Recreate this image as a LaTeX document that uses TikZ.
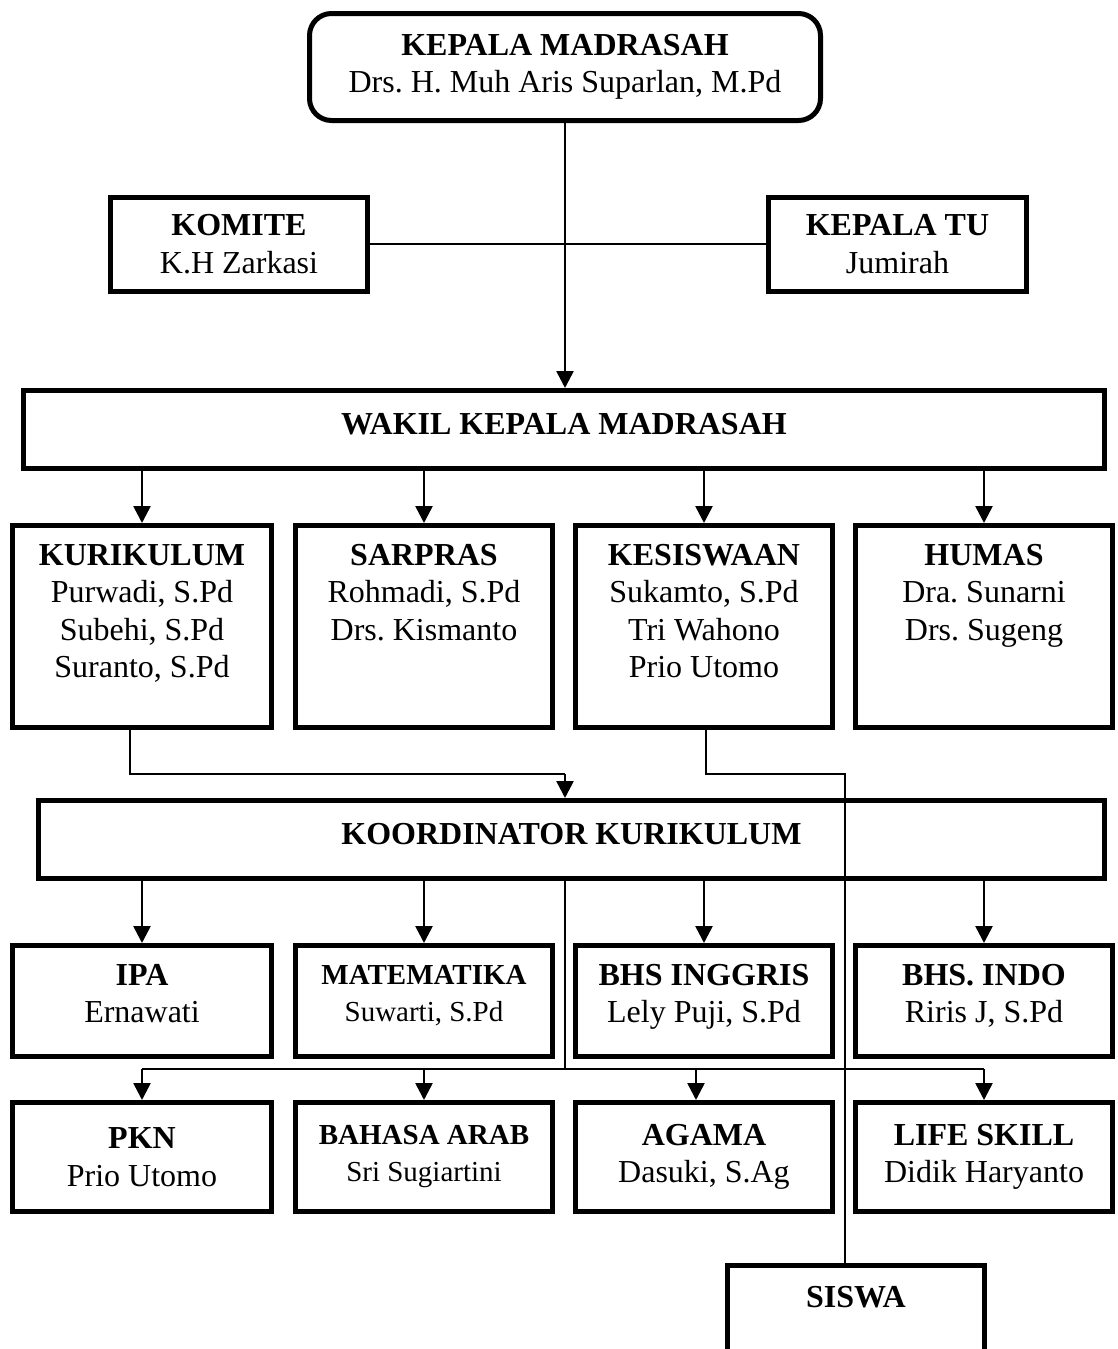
\documentclass[tikz,border=0pt]{standalone}
\usepackage{fontspec}
\setmainfont{Liberation Serif}
\usetikzlibrary{arrows.meta}
\frenchspacing
\tikzset{
  box/.style={draw, line width=5pt, rectangle, inner sep=0pt, align=center,
    font=\frenchspacing\fontsize{32}{37.5}\selectfont},
  smallbox/.style={box, font=\frenchspacing\fontsize{29}{37}\selectfont},
  txt/.style={inner sep=0pt, align=center, font=\frenchspacing\fontsize{32}{37.5}\selectfont},
  rowthree/.style={text depth=15pt},
  conn/.style={line width=1.6pt},
  arr/.style={line width=2.6pt, -{Triangle[width=17pt,length=17pt]}},
}
\begin{document}
\begin{tikzpicture}[x=1pt, y=-1pt]
\useasboundingbox (0,0) rectangle (1117,1349);
\clip (0,0) rectangle (1117,1349);

% head of the school
\node[box, rounded corners=22pt, minimum width=511, minimum height=107] (kepala) at (565,67)
  {\textbf{KEPALA MADRASAH}\\Drs. H. Muh Aris Suparlan, M.Pd};

% committee and administration
\node[box, minimum width=257, minimum height=94] (komite) at (239,244)
  {\textbf{KOMITE}\\K.H Zarkasi};
\node[box, minimum width=258, minimum height=94] (tu) at (897.5,244)
  {\textbf{KEPALA TU}\\Jumirah};

% vice head
\node[box, minimum width=1081, minimum height=78, text depth=12pt] (wakil) at (564,429.5)
  {\textbf{WAKIL KEPALA MADRASAH}};

% vice head divisions
\node[box, minimum width=259, minimum height=202] (kur) at (142,626.5) {};
\node[box, minimum width=257, minimum height=202] (sar) at (424,626.5) {};
\node[box, minimum width=257, minimum height=202] (kes) at (704,626.5) {};
\node[box, minimum width=257, minimum height=202] (hum) at (984,626.5) {};
\node[txt, anchor=north] (kur-t) at (142,544) {\textbf{KURIKULUM}\\Purwadi, S.Pd\\Subehi, S.Pd\\Suranto, S.Pd};
\node[txt, anchor=north] (sar-t) at (424,544) {\textbf{SARPRAS}\\Rohmadi, S.Pd\\Drs. Kismanto};
\node[txt, anchor=north] (kes-t) at (704,544) {\textbf{KESISWAAN}\\Sukamto, S.Pd\\Tri Wahono\\Prio Utomo};
\node[txt, anchor=north] (hum-t) at (984,544) {\textbf{HUMAS}\\Dra. Sunarni\\Drs. Sugeng};

% curriculum coordinator
\node[box, minimum width=1066, minimum height=78, text depth=12pt] (koord) at (571.5,839.5)
  {\textbf{KOORDINATOR KURIKULUM}};

% subjects, first row
\node[box, rowthree, minimum width=259, minimum height=111] (ipa) at (142,1001) {\textbf{IPA}\\Ernawati};
\node[smallbox, rowthree, minimum width=257, minimum height=111] (mat) at (424,1001) {\textbf{MATEMATIKA}\\Suwarti, S.Pd};
\node[box, rowthree, minimum width=257, minimum height=111] (ing) at (704,1001) {\textbf{BHS INGGRIS}\\Lely Puji, S.Pd};
\node[box, rowthree, minimum width=257, minimum height=111] (ind) at (984,1001) {\textbf{BHS. INDO}\\Riris J, S.Pd};

% subjects, second row
\node[box, minimum width=259, minimum height=109] (pkn) at (142,1157) {\textbf{PKN}\\Prio Utomo};
\node[smallbox, minimum width=257, minimum height=109] (arab) at (424,1157) {\textbf{BAHASA ARAB}\\Sri Sugiartini};
\node[box, minimum width=257, minimum height=109] (agama) at (704,1157) {\textbf{AGAMA}\\Dasuki, S.Ag};
\node[box, minimum width=257, minimum height=109] (life) at (984,1157) {\textbf{LIFE SKILL}\\Didik Haryanto};

% students
\node[box, minimum width=257, minimum height=200, anchor=north] (siswa) at (856,1262.5) {};
\node[txt, anchor=north] (siswa-t) at (856,1286) {\textbf{SISWA}};

% connectors
\draw[arr] (kepala.south) -- (kepala.south |- wakil.north);
\draw[conn] (komite.east) -- (tu.west);
\foreach \b in {kur,sar,kes,hum}
  \draw[arr] (wakil.south -| \b.north) -- (\b.north);

\coordinate (k1) at (130,774);
\coordinate (k2) at (565,774);
\draw[conn] (kur.south -| k1) -- (k1) -- (k2);
\draw[arr] (k2) -- (k2 |- koord.north);

\coordinate (s1) at (706,774);
\coordinate (s2) at (845,774);
\draw[conn] (kes.south -| s1) -- (s1) -- (s2) -- (s2 |- siswa.north);

\foreach \b in {ipa,mat,ing,ind}
  \draw[arr] (koord.south -| \b.north) -- (\b.north);

\coordinate (c1) at (565,1069);
\coordinate (a1) at (696,1069);
\draw[conn] (koord.south -| c1) -- (c1);
\draw[conn] (pkn.north |- c1) -- (life.north |- c1);
\draw[arr] (pkn.north |- c1) -- (pkn.north);
\draw[arr] (arab.north |- c1) -- (arab.north);
\draw[arr] (a1) -- (a1 |- agama.north);
\draw[arr] (life.north |- c1) -- (life.north);
\end{tikzpicture}
\end{document}
